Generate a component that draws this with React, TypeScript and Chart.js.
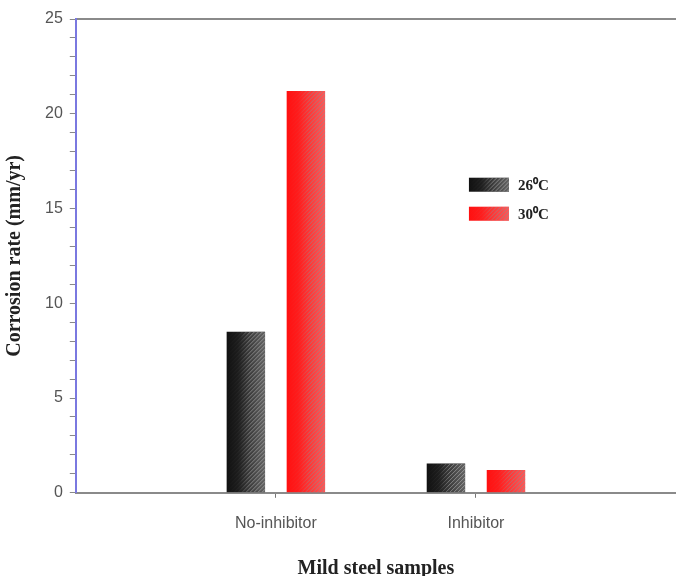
import React, { useEffect, useRef } from "react";
import { Chart, registerables } from "chart.js";

Chart.register(...registerables);

const categories = ["", "No-inhibitor", "Inhibitor", ""];
const series26 = [null, 8.5, 1.55, null];
const series30 = [null, 21.2, 1.2, null];
const seriesLabels = ["26\u2070C", "30\u2070C"];
const yTicks = [0, 5, 10, 15, 20, 25];

const COLORS = ["#111111", "#ff1010"];

function hatchBar(ctx: CanvasRenderingContext2D, el: any, dark: boolean) {
  const p = el.getProps(["x", "y", "base", "width"], true);
  const left = p.x - p.width / 2;
  const right = p.x + p.width / 2;
  const top = Math.min(p.y, p.base);
  const h = Math.abs(p.base - p.y);
  drawHatch(ctx, left, top, right - left, h, dark);
}

function drawHatch(ctx: CanvasRenderingContext2D, left: number, top: number, w: number, h: number, dark: boolean) {
  ctx.save();
  ctx.beginPath();
  ctx.rect(left, top, w, h);
  ctx.clip();
  const g = ctx.createLinearGradient(left, 0, left + w, 0);
  g.addColorStop(0, "rgba(255,255,255,0)");
  g.addColorStop(0.3, "rgba(255,255,255,0.05)");
  g.addColorStop(1, dark ? "rgba(255,255,255,0.35)" : "rgba(255,255,255,0.3)");
  ctx.fillStyle = g;
  ctx.fillRect(left, top, w, h);
  const sg = ctx.createLinearGradient(left, 0, left + w, 0);
  sg.addColorStop(0, "rgba(150,150,150,0)");
  sg.addColorStop(0.35, "rgba(150,150,150,0.1)");
  sg.addColorStop(0.6, dark ? "rgba(150,150,150,0.75)" : "rgba(140,140,140,0.6)");
  sg.addColorStop(1, dark ? "rgba(160,160,160,0.85)" : "rgba(140,140,140,0.7)");
  ctx.strokeStyle = sg;
  ctx.lineWidth = 1;
  ctx.beginPath();
  for (let s = -h; s < w + h; s += 4) {
    ctx.moveTo(left + s, top + h);
    ctx.lineTo(left + s + h, top);
  }
  ctx.stroke();
  ctx.restore();
}

const hatchPlugin = {
  id: "hatch",
  afterDatasetsDraw(chart: any) {
    const ctx = chart.ctx;
    chart.data.datasets.forEach((ds: any, di: number) => {
      const meta = chart.getDatasetMeta(di);
      meta.data.forEach((el: any, i: number) => {
        if (ds.data[i] == null) return;
        hatchBar(ctx, el, di === 0);
      });
    });
  },
};

const legendPlugin = {
  id: "customLegend",
  afterDraw(chart: any) {
    const ctx = chart.ctx;
    const area = chart.chartArea;
    const x0 = area.left + (area.right - area.left) * 0.655;
    const y0 = area.top + (area.bottom - area.top) * 0.335;
    chart.data.datasets.forEach((ds: any, di: number) => {
      const y = y0 + di * 29;
      ctx.save();
      ctx.fillStyle = ds.backgroundColor;
      ctx.fillRect(x0, y, 40, 14);
      drawHatch(ctx, x0, y, 40, 14, di === 0);
      ctx.fillStyle = "#222";
      ctx.font = "bold 15px 'Liberation Serif', 'Times New Roman', serif";
      ctx.textBaseline = "middle";
      ctx.textAlign = "left";
      ctx.fillText(ds.label, x0 + 49, y + 8);
      ctx.restore();
    });
  },
};

export default function App() {
  const ref = useRef<HTMLCanvasElement>(null);
  useEffect(() => {
    if (!ref.current) return;
    const chart = new Chart(ref.current, {
      type: "bar",
      data: {
        labels: categories,
        datasets: [
          { label: seriesLabels[0], data: series26 as any, backgroundColor: COLORS[0] },
          { label: seriesLabels[1], data: series30 as any, backgroundColor: COLORS[1] },
        ],
      },
      options: {
        animation: false,
        responsive: false,
        maintainAspectRatio: false,
        layout: { padding: { left: 0, right: 0, top: 19, bottom: 0 } },
        datasets: { bar: { categoryPercentage: 0.6, barPercentage: 0.64 } },
        plugins: { legend: { display: false }, tooltip: { enabled: false } },
        scales: {
          x: {
            type: "category",
            offset: false,
            afterFit: (s: any) => {
              s.paddingRight = 0;
              s.paddingLeft = 0;
            },
            grid: {
              offset: false,
              drawOnChartArea: false,
              drawTicks: true,
              tickLength: 5,
              tickColor: (c: any) => (c.index === 1 || c.index === 2 ? "#777" : "rgba(0,0,0,0)"),
            },
            border: { color: "#8a8a8a", width: 2 },
            ticks: {
              color: "#555",
              font: { family: "'Liberation Sans', Arial, sans-serif", size: 16 },
              padding: 16,
              maxRotation: 0,
              autoSkip: false,
            },
            title: {
              display: true,
              text: "Mild steel samples",
              color: "#222",
              font: { family: "'Liberation Serif', 'Times New Roman', serif", size: 20, weight: "bold", lineHeight: 0.7 },
              padding: { top: 13, bottom: 0 },
            },
          },
          xTop: {
            type: "category",
            position: "top",
            offset: false,
            afterFit: (s: any) => {
              s.paddingRight = 0;
              s.paddingLeft = 0;
            },
            grid: { display: false, drawTicks: false },
            border: { color: "#8a8a8a", width: 2 },
            ticks: { display: false },
          },
          y: {
            min: 0,
            max: 25,
            grid: {
              drawOnChartArea: false,
              drawTicks: true,
              tickLength: 6,
              tickColor: "#888",
            },
            border: { color: "#7a78e0", width: 2 },
            ticks: {
              stepSize: 1,
              autoSkip: false,
              color: "#555",
              padding: 7,
              font: { family: "'Liberation Sans', Arial, sans-serif", size: 16 },
              callback: (v: any) => (yTicks.includes(Number(v)) ? String(v) : ""),
            },
            title: {
              display: true,
              text: "Corrosion rate (mm/yr)",
              color: "#222",
              font: { family: "'Liberation Serif', 'Times New Roman', serif", size: 20, weight: "bold", lineHeight: 1 },
              padding: { top: 5, bottom: 13 },
            },
          },
        },
      } as any,
      plugins: [hatchPlugin, legendPlugin],
    });
    return () => chart.destroy();
  }, []);
  return (
    <div style={{ position: "absolute", left: 0, top: 0, width: 676, height: 576, background: "#fff" }}>
      <canvas ref={ref} width={676} height={576} style={{ display: "block", width: 676, height: 576 }} />
    </div>
  );
}
